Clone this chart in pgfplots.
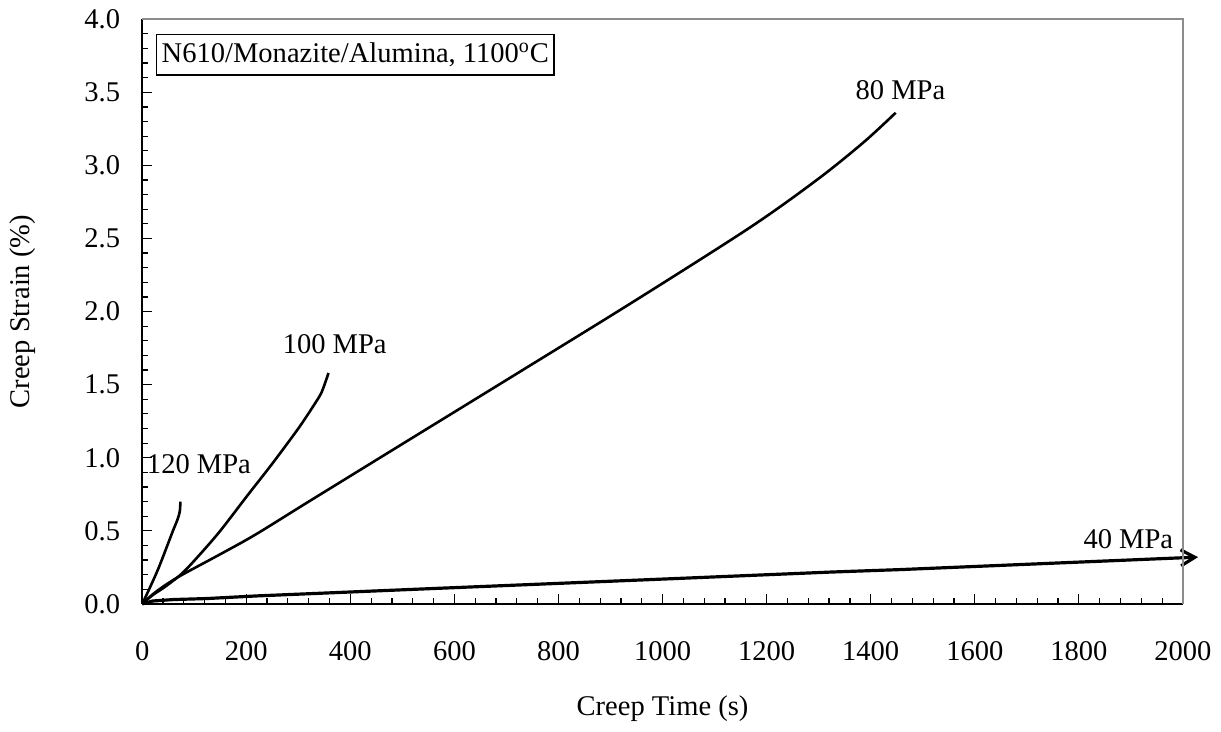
\documentclass[border=0pt]{standalone}
\usepackage{fontspec}
\setmainfont{Liberation Serif}
\usepackage{pgfplots}
\pgfplotsset{compat=1.18}
\usetikzlibrary{arrows.meta}

\begin{document}
\fontsize{14.3}{17}\selectfont
\begin{tikzpicture}
\begin{axis}[
  width=521.5pt, height=293pt, scale only axis,
  xmin=0, xmax=2000, ymin=0, ymax=4,
  xtick={0,200,...,2000}, ytick={0,0.5,...,4},
  minor x tick num=4, minor y tick num=4,
  axis lines*=left,
  tick align=inside,
  major tick length=5pt, minor tick length=3pt,
  every tick/.style={black, line width=0.6pt},
  axis line style={black, line width=0.8pt},
  /pgf/number format/assume math mode=true,
  xticklabel style={anchor=center, yshift=-23.5pt, /pgf/number format/1000 sep={}},
  yticklabel style={anchor=center, xshift=-20pt, /pgf/number format/.cd, fixed, fixed zerofill, precision=1},
  xlabel={Creep Time (s)},
  ylabel={Creep Strain (\%)},
  xlabel style={at={(axis description cs:0.5,0)}, anchor=center, yshift=-52.5pt},
  ylabel style={at={([xshift=-60pt]axis description cs:0,0.5)}, anchor=center},
  clip=false,
]
% 120 MPa
\addplot[black, line width=1.3pt, smooth] coordinates {
  (0,0) (12,0.09) (32,0.25) (58,0.49) (66,0.56) (70,0.60) (72.5,0.64) (73.5,0.70)
};
% 100 MPa
\addplot[black, line width=1.3pt, smooth] coordinates {
  (0,0) (20,0.06) (45,0.12) (77,0.21) (110,0.335) (150,0.50) (204,0.75)
  (249,0.955) (300,1.20) (330,1.36) (345,1.45) (358,1.58)
};
% 80 MPa
\addplot[black, line width=1.3pt, smooth] coordinates {
  (0,0) (20,0.065) (45,0.13) (77,0.20) (150,0.34) (218,0.475) (320,0.70)
  (498,1.09) (722,1.58) (945,2.07) (1170,2.58) (1300,2.91) (1387,3.16) (1448,3.36)
};
% 40 MPa
\addplot[black, line width=1.6pt, -{Straight Barb[length=7pt,width=8pt]}] coordinates {
  (0,0) (20,0.02) (60,0.03) (125,0.037) (221,0.055) (556,0.105) (1000,0.17)
  (1323,0.218) (1457,0.235) (2000,0.316) (2029,0.32)
};
\draw[black!45, line width=0.8pt] (rel axis cs:0,1) -- (rel axis cs:1,1) -- (rel axis cs:1,0);
\node at (axis cs:1457,3.515) {80 MPa};
\node at (axis cs:370,1.78) {100 MPa};
\node at (axis cs:109,0.955) {120 MPa};
\node at (axis cs:1895,0.444) {40 MPa};
\node[draw, line width=0.6pt, anchor=north west, inner xsep=2.5pt, inner ysep=4pt, xshift=7pt, yshift=-7.5pt]
  at (rel axis cs:0,1) {N610/Monazite/Alumina, 1100\textsuperscript{o}C};
\end{axis}
\path (current axis.south west) +(-70pt,-61.5pt) rectangle +(540.5pt,301.5pt);
\end{tikzpicture}
\end{document}
